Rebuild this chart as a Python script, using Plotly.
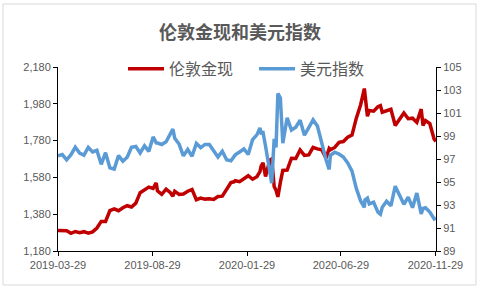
import plotly.graph_objects as go

dates = ["2019-03-29","2019-04-05","2019-04-12","2019-04-19","2019-04-26","2019-05-03","2019-05-10","2019-05-17","2019-05-24","2019-05-31",
"2019-06-07","2019-06-14","2019-06-21","2019-06-28","2019-07-05","2019-07-12","2019-07-19","2019-07-26","2019-08-02","2019-08-09",
"2019-08-16","2019-08-23","2019-08-30","2019-09-04","2019-09-06","2019-09-13","2019-09-20","2019-09-27","2019-10-01","2019-10-04",
"2019-10-11","2019-10-18","2019-10-25","2019-11-01","2019-11-08","2019-11-15","2019-11-22","2019-11-29","2019-12-06","2019-12-13",
"2019-12-20","2019-12-27","2020-01-03","2020-01-08","2020-01-10","2020-01-17","2020-01-24","2020-01-31","2020-02-07","2020-02-14",
"2020-02-19","2020-02-21","2020-02-24","2020-02-28","2020-03-06","2020-03-09","2020-03-13","2020-03-16","2020-03-19","2020-03-20",
"2020-03-23","2020-03-27","2020-04-03","2020-04-10","2020-04-17","2020-04-24","2020-05-01","2020-05-08","2020-05-15","2020-05-22",
"2020-05-29","2020-06-05","2020-06-10","2020-06-12","2020-06-19","2020-06-26","2020-07-03","2020-07-10","2020-07-17","2020-07-24",
"2020-07-31","2020-08-06","2020-08-07","2020-08-11","2020-08-14","2020-08-21","2020-08-28","2020-09-01","2020-09-04","2020-09-11",
"2020-09-18","2020-09-25","2020-10-02","2020-10-09","2020-10-16","2020-10-23","2020-10-30","2020-11-06","2020-11-09","2020-11-13",
"2020-11-20","2020-11-27","2020-11-30"]

gold = [1292,1291,1290,1276,1286,1279,1285,1277,1284,1305,
1341,1341,1400,1409,1399,1415,1426,1419,1440,1497,
1513,1527,1520,1550,1507,1488,1516,1497,1478,1505,
1488,1490,1505,1514,1459,1468,1462,1464,1460,1476,
1478,1511,1552,1556,1562,1557,1571,1589,1570,1584,
1611,1643,1659,1585,1674,1680,1530,1510,1474,1498,
1553,1618,1620,1684,1683,1729,1700,1702,1743,1735,
1730,1684,1737,1730,1743,1771,1775,1798,1810,1902,
1975,2063,2035,1912,1944,1940,1964,1970,1934,1940,
1950,1862,1900,1930,1899,1902,1879,1951,1862,1889,
1872,1788,1776]

dxy = [97.28,97.39,96.93,97.37,98.02,97.52,97.33,98.01,97.61,97.75,
96.54,97.55,96.23,96.13,97.29,96.81,97.15,98.02,98.09,97.52,
98.15,97.66,98.92,98.40,98.39,98.26,98.50,99.12,99.60,98.80,
98.30,97.27,97.83,97.24,98.36,97.99,98.27,98.27,97.68,97.18,
97.67,96.93,96.84,97.30,97.36,97.61,97.87,97.39,98.68,99.10,
99.70,99.26,99.30,98.13,95.99,94.90,98.75,98.00,102.70,102.60,
102.30,98.37,100.58,99.52,99.76,100.38,99.07,99.73,100.40,99.86,
98.34,96.93,96.10,97.32,97.59,97.43,97.18,96.65,95.95,94.44,
93.35,92.80,93.44,93.60,93.09,93.24,92.37,92.20,92.80,93.33,
92.93,94.64,93.84,93.06,93.68,92.77,94.04,92.23,92.70,92.76,
92.39,91.79,91.87]

x_ticks = ["2019-03-29","2019-08-29","2020-01-29","2020-06-29","2020-11-29"]
left_ticks = [1180,1380,1580,1780,1980,2180]
right_ticks = [89,91,93,95,97,99,101,103,105]

grey = "#595959"
tick_font = dict(family="Liberation Sans, Arial", size=11, color=grey)

fig = go.Figure()
fig.add_trace(go.Scatter(x=dates, y=gold, name="伦敦金现", mode="lines",
                         line=dict(color="#C00000", width=3.5), yaxis="y"))
fig.add_trace(go.Scatter(x=dates, y=dxy, name="美元指数", mode="lines",
                         line=dict(color="#5B9BD5", width=3.5), yaxis="y2"))

fig.update_layout(
    width=480, height=289,
    margin=dict(l=58, r=44, t=67, b=38),
    paper_bgcolor="white", plot_bgcolor="white",
    title=dict(text="<b>伦敦金现和美元指数</b>", x=0.5, xref="container",
               y=1 - 33/289, yref="container", yanchor="middle", xanchor="center",
               font=dict(family="Noto Sans CJK SC", size=18, color=grey)),
    showlegend=True,
    legend=dict(orientation="h", x=0.172, y=0.99, xanchor="left", yanchor="middle",
                bgcolor="rgba(0,0,0,0)", font=dict(family="Noto Sans CJK SC", size=16, color=grey),
                itemwidth=36, entrywidth=80, tracegroupgap=0),
    xaxis=dict(type="date", range=["2019-03-29", "2020-11-30"], tickvals=x_ticks, ticktext=x_ticks,
               showgrid=False, showline=True, linecolor="black", linewidth=1,
               ticks="outside", ticklen=4, tickcolor="black", tickfont=tick_font, zeroline=False),
    yaxis=dict(range=[1180, 2180], tickvals=left_ticks, ticktext=[f"{v:,}" for v in left_ticks],
               showgrid=False, showline=True, linecolor="black", linewidth=1,
               ticks="outside", ticklen=4, tickcolor="black", tickfont=tick_font, zeroline=False),
    yaxis2=dict(range=[89, 105], tickvals=right_ticks, overlaying="y", side="right",
                showgrid=False, showline=True, linecolor="black", linewidth=1,
                ticks="outside", ticklen=4, tickcolor="black", tickfont=tick_font, zeroline=False),
    shapes=[dict(type="rect", xref="paper", yref="paper",
                 x0=(3-58)/378, x1=(476-58)/378, y0=(251-285)/184, y1=(251-4)/184,
                 line=dict(color="#D9D9D9", width=1), fillcolor="rgba(0,0,0,0)", layer="below")],
)

fig.write_html("out.html")
